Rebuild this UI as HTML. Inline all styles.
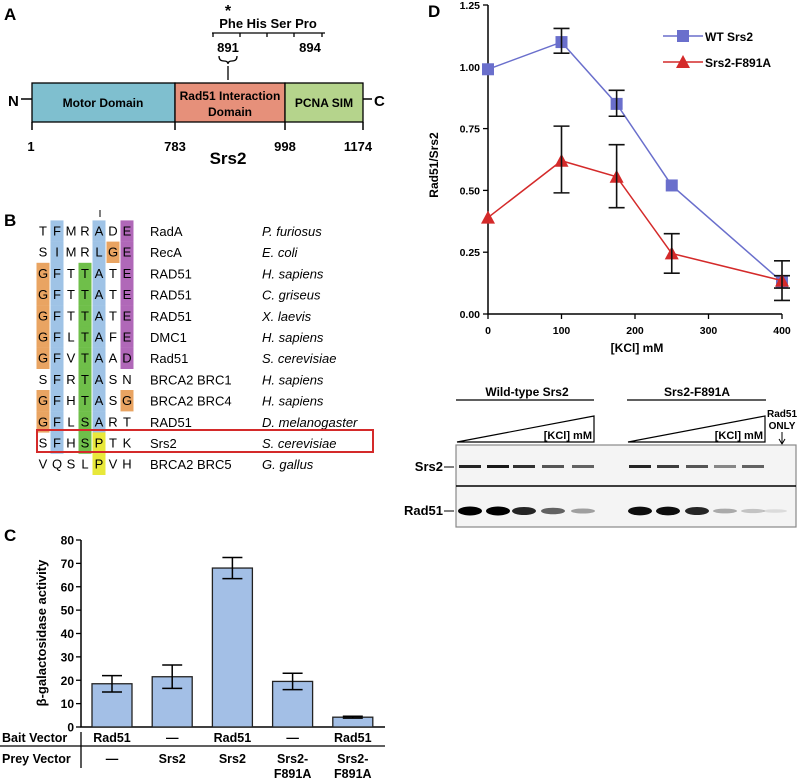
<!DOCTYPE html>
<html><head><meta charset="utf-8"><style>
body{margin:0;background:#fff}
svg{display:block;font-family:"Liberation Sans",Arial,sans-serif}
.b{font-weight:bold}
</style></head><body>
<svg id="fig" width="799" height="781" viewBox="0 0 799 781">
<!-- Panel A -->
<g>
<text x="4" y="20" class="b" font-size="17">A</text>
<text x="228" y="16" class="b" font-size="16" text-anchor="middle">*</text>
<text x="268" y="28" class="b" font-size="13" text-anchor="middle">Phe His Ser Pro</text>
<path d="M212 33H325M213 33v4M240 33v4M267 33v4M294 33v4M322 33v4" stroke="#000" stroke-width="1.3" fill="none"/>
<text x="228" y="52" class="b" font-size="13" text-anchor="middle">891</text>
<text x="310" y="52" class="b" font-size="13" text-anchor="middle">894</text>
<path d="M219 56q0 5 5 5q4 0 4 3q0-3 4-3q5 0 5-5M228 66v14" stroke="#000" stroke-width="1.3" fill="none"/>
<text x="8" y="106" class="b" font-size="15">N</text>
<path d="M21 99H32M363 99H372" stroke="#000" stroke-width="1.5"/>
<text x="374" y="106" class="b" font-size="15">C</text>
<rect x="32" y="83" width="143" height="39" fill="#7fbfcf" stroke="#000" stroke-width="1.3"/>
<rect x="175" y="83" width="110" height="39" fill="#e6907a" stroke="#000" stroke-width="1.3"/>
<rect x="285" y="83" width="78" height="39" fill="#b5d48c" stroke="#000" stroke-width="1.3"/>
<text x="103" y="107" class="b" font-size="12" text-anchor="middle">Motor Domain</text>
<text x="230" y="100" class="b" font-size="12" text-anchor="middle">Rad51 Interaction</text>
<text x="230" y="116" class="b" font-size="12" text-anchor="middle">Domain</text>
<text x="324" y="107" class="b" font-size="12" text-anchor="middle">PCNA SIM</text>
<path d="M32 122v8M175 122v8M285 122v8M363 122v8" stroke="#000" stroke-width="1.5"/>
<g class="b" font-size="13" text-anchor="middle">
<text x="31" y="151">1</text><text x="175" y="151">783</text><text x="285" y="151">998</text><text x="358" y="151">1174</text>
</g>
<text x="228" y="164" class="b" font-size="17" text-anchor="middle">Srs2</text>
</g>
<!-- Panel B -->
<g id="panelB">
<text x="4" y="226" class="b" font-size="17">B</text>
<path d="M100 210v7" stroke="#000"/>
</g>
<!-- Panel C -->
<g id="panelC">
<text x="4" y="541" class="b" font-size="17">C</text>
</g>
<!-- Panel D -->
<g id="panelD">
<text x="428" y="17" class="b" font-size="17">D</text>
</g>
<!-- Gel -->
<g id="gel">
<text x="527" y="396" class="b" font-size="12" text-anchor="middle">Wild-type Srs2</text>
<path d="M456 400H594M627 400H766" stroke="#000" stroke-width="1.2"/>
<text x="697" y="396" class="b" font-size="12" text-anchor="middle">Srs2-F891A</text>
<path d="M457 442L594 416V442Z" fill="none" stroke="#000" stroke-width="1.2"/>
<path d="M628 442L765 416V442Z" fill="none" stroke="#000" stroke-width="1.2"/>
<text x="592" y="439" class="b" font-size="11" text-anchor="end">[KCl] mM</text>
<text x="763" y="439" class="b" font-size="11" text-anchor="end">[KCl] mM</text>
<text x="782" y="417" class="b" font-size="10" text-anchor="middle">Rad51</text>
<text x="782" y="429" class="b" font-size="10" text-anchor="middle">ONLY</text>
<path d="M782 432v11M779 439l3 5 3-5" stroke="#000" fill="none"/>
<rect x="456" y="445" width="340" height="82" fill="#f4f4f4" stroke="#888" stroke-width="1.2"/>
<path d="M456 486H796" stroke="#000" stroke-width="1.5"/>
<text x="443" y="471" class="b" font-size="13" text-anchor="end">Srs2</text>
<text x="443" y="515" class="b" font-size="13" text-anchor="end">Rad51</text>
<path d="M444 467h10M444 511h10" stroke="#000"/>
</g>
</svg>
<script>
const NS="http://www.w3.org/2000/svg";
function mk(parent,tag,attrs,text){const e=document.createElementNS(NS,tag);for(const k in attrs)e.setAttribute(k,attrs[k]);if(text!==undefined)e.textContent=text;parent.appendChild(e);return e;}

// ---------- Panel B alignment ----------
const alignSeqs=["TFMRADE","SIMRLGE","GFTTATE","GFTTATE","GFTTATE","GFLTAFE","GFVTAAD","SFRTASN","GFHTASG","GFLSART","SFHSPTK","VQSLPVH"];
const alignProteins=["RadA","RecA","RAD51","RAD51","RAD51","DMC1","Rad51","BRCA2 BRC1","BRCA2 BRC4","RAD51","Srs2","BRCA2 BRC5"];
const alignSpecies=["P. furiosus","E. coli","H. sapiens","C. griseus","X. laevis","H. sapiens","S. cerevisiae","H. sapiens","H. sapiens","D. melanogaster","S. cerevisiae","G. gallus"];
const colorMap={"0":["o",[2,3,4,5,6,8,9]],"1":["b",[0,1,2,3,4,5,6,7,8,9,10]],"3":["g",[2,3,4,5,6,7,8,9,10]],"4":["b",[0,1,2,3,4,5,6,7,8,9]],"6":["p",[0,1,2,3,4,5,6]]};
const extraCells=[[1,5,"o"],[8,6,"o"],[10,4,"y"],[11,4,"y"]];
const cols={o:"#e9a462",b:"#9fc3e6",g:"#6fbf4a",p:"#b068b8",y:"#e8e83a"};
(function(){
 const g=document.getElementById("panelB");
 const x0=43,dx=14,y0=231,dy=21.2;
 const cell=(r,c,k)=>{const el=mk(g,"rect",{x:x0+c*dx-6.5,y:y0+r*dy-10.6,width:13,height:dy+0.2,fill:cols[k]});
  
  };
 for(const c in colorMap){const [k,rows]=colorMap[c];rows.forEach(r=>cell(r,+c,k));}
 extraCells.forEach(([r,c,k])=>cell(r,c,k));
 alignSeqs.forEach((s,r)=>{
  [...s].forEach((ch,c)=>mk(g,"text",{x:x0+c*dx,y:y0+r*dy+4.5,"font-size":13,"text-anchor":"middle"},ch));
  const p=mk(g,"text",{x:150,y:y0+r*dy+5,"font-size":13},alignProteins[r]);
  
  
  const sp=mk(g,"text",{x:262,y:y0+r*dy+5,"font-size":13,"font-style":"italic"},alignSpecies[r]);
  
  
 });
 const box=mk(g,"rect",{x:37,y:430,width:336,height:22,fill:"none",stroke:"#d42a2a","stroke-width":2});
 
 
})();

// ---------- Panel C bar chart ----------
const barCategories=["Rad51/—","—/Srs2","Rad51/Srs2","—/Srs2-F891A","Rad51/Srs2-F891A"];
const barValues=[18.5,21.5,68,19.5,4.2];
const barErrLow=[15,16.5,63.5,16,3.8];
const barErrHigh=[22,26.5,72.5,23,4.6];
const barTicks=[0,10,20,30,40,50,60,70,80];
const baitLabels=["Rad51","—","Rad51","—","Rad51"];
const preyLabels=[["—"],["Srs2"],["Srs2"],["Srs2-","F891A"],["Srs2-","F891A"]];
(function(){
 const g=document.getElementById("panelC");
 const yB=v=>727-v/80*187, xB=i=>112+i*60.2;
 mk(g,"path",{d:"M81 540V727H385",stroke:"#000","stroke-width":1.5,fill:"none"});
 barTicks.forEach(t=>{mk(g,"path",{d:`M76 ${yB(t)}H81`,stroke:"#000","stroke-width":1.3});
  const tl=mk(g,"text",{x:74,y:yB(t)+4.5,"font-size":12,"font-weight":"bold","text-anchor":"end"},t);
  
  });
 const yl=mk(g,"text",{x:0,y:0,"font-size":13,"font-weight":"bold","text-anchor":"middle",transform:"translate(46,633) rotate(-90)"},"β-galactosidase activity");
 
 
 barValues.forEach((v,i)=>{
  const b=mk(g,"rect",{x:xB(i)-20,y:yB(v),width:40,height:727-yB(v),fill:"#a3bfe6",stroke:"#222","stroke-width":1.3});
  
  
  const x=xB(i);
  const e=mk(g,"path",{d:`M${x} ${yB(barErrLow[i])}V${yB(barErrHigh[i])}M${x-10} ${yB(barErrLow[i])}h20M${x-10} ${yB(barErrHigh[i])}h20`,stroke:"#000","stroke-width":1.5,fill:"none"});
  
  
  const bl=mk(g,"text",{x:x,y:742,"font-size":12.5,"font-weight":"bold","text-anchor":"middle"},baitLabels[i]);
  
  
  preyLabels[i].forEach((t,j)=>{const pl=mk(g,"text",{x:x,y:763+j*15,"font-size":12.5,"font-weight":"bold","text-anchor":"middle"},t);
   
   });
 });
 mk(g,"path",{d:"M0 746H385M81 732V768",stroke:"#000","stroke-width":1.3,fill:"none"});
 mk(g,"text",{x:2,y:742,"font-size":12.5,"font-weight":"bold"},"Bait  Vector");
 mk(g,"text",{x:2,y:763,"font-size":12.5,"font-weight":"bold"},"Prey Vector");
})();

// ---------- Panel D line chart ----------
const kcl=[0,100,175,250,400];
const wtValues=[0.99,1.10,0.85,0.52,0.13];
const wtErrLow=[0.99,1.055,0.80,0.52,0.105];
const wtErrHigh=[0.99,1.155,0.905,0.52,0.155];
const mutValues=[0.39,0.62,0.555,0.245,0.135];
const mutErrLow=[0.39,0.49,0.43,0.165,0.055];
const mutErrHigh=[0.39,0.76,0.685,0.325,0.215];
const dYTicks=[0,0.25,0.5,0.75,1.0,1.25];
const dXTicks=[0,100,200,300,400];
(function(){
 const g=document.getElementById("panelD");
 const X=v=>488+v/400*294, Y=v=>314-v/1.25*309;
 mk(g,"path",{d:"M488 5V314H782",stroke:"#000","stroke-width":1.5,fill:"none"});
 dYTicks.forEach(t=>{mk(g,"path",{d:`M483 ${Y(t)}H488`,stroke:"#000","stroke-width":1.3});
  const tl=mk(g,"text",{x:480,y:Y(t)+4,"font-size":10.5,"font-weight":"bold","text-anchor":"end"},t.toFixed(2));
  
  });
 dXTicks.forEach(t=>{mk(g,"path",{d:`M${X(t)} 314V319`,stroke:"#000","stroke-width":1.3});
  const tl=mk(g,"text",{x:X(t),y:334,"font-size":10.5,"font-weight":"bold","text-anchor":"middle"},t);
  
  });
 const xt=mk(g,"text",{x:637,y:352,"font-size":12,"font-weight":"bold","text-anchor":"middle"},"[KCl] mM");
 
 
 const yt=mk(g,"text",{x:0,y:0,"font-size":12,"font-weight":"bold","text-anchor":"middle",transform:"translate(438,165) rotate(-90)"},"Rad51/Srs2");
 
 
 const series=[[wtValues,wtErrLow,wtErrHigh,"#6a6fcc","sq"],[mutValues,mutErrLow,mutErrHigh,"#d42a2a","tri"]];
 series.forEach(([vals,lo,hi,col,shape],si)=>{
  const l=mk(g,"polyline",{points:vals.map((v,i)=>X(kcl[i])+","+Y(v)).join(" "),fill:"none",stroke:col,"stroke-width":1.5});
  
  
  vals.forEach((v,i)=>{
   const x=X(kcl[i]),y=Y(v);
   let m;
   if(shape==="sq") m=mk(g,"rect",{x:x-6,y:y-6,width:12,height:12,fill:col});
   else m=mk(g,"path",{d:`M${x} ${y-7}L${x+7} ${y+6}H${x-7}Z`,fill:col});
   
   
   if(hi[i]-lo[i]>0.01){
    const e=mk(g,"path",{d:`M${x} ${Y(lo[i])}V${Y(hi[i])}M${x-8} ${Y(lo[i])}h16M${x-8} ${Y(hi[i])}h16`,stroke:"#111","stroke-width":1.6,fill:"none"});
    
    
   }
  });
 });
 mk(g,"path",{d:"M663 36H703",stroke:"#6a6fcc","stroke-width":1.5});
 mk(g,"rect",{x:677,y:30,width:12,height:12,fill:"#6a6fcc"});
 const l1=mk(g,"text",{x:705,y:41,"font-size":12,"font-weight":"bold"},"WT Srs2");
 
 
 mk(g,"path",{d:"M663 62H703",stroke:"#d42a2a","stroke-width":1.5});
 mk(g,"path",{d:"M683 55L690 68H676Z",fill:"#d42a2a"});
 const l2=mk(g,"text",{x:705,y:67,"font-size":12,"font-weight":"bold"},"Srs2-F891A");
 
 
})();

// ---------- Gel bands ----------
const laneX=[470,498,524,553,583,640,668,697,725,753,775];
const srs2Intensity=[0.85,0.9,0.8,0.65,0.6,0.85,0.75,0.65,0.45,0.6,0];
const rad51Intensity=[1,1,0.85,0.6,0.35,0.95,0.95,0.85,0.3,0.2,0.1];
(function(){
 const g=document.getElementById("gel");
 laneX.forEach((x,i)=>{
  if(srs2Intensity[i]>0){const b=mk(g,"rect",{x:x-11,y:465,width:22,height:3,fill:"#000",opacity:srs2Intensity[i]});
   
   }
  const r=mk(g,"ellipse",{cx:x,cy:511,rx:12,ry:1.5+3*rad51Intensity[i],fill:"#000",opacity:rad51Intensity[i]});
  
  
 });
})();
</script>
</body></html>
